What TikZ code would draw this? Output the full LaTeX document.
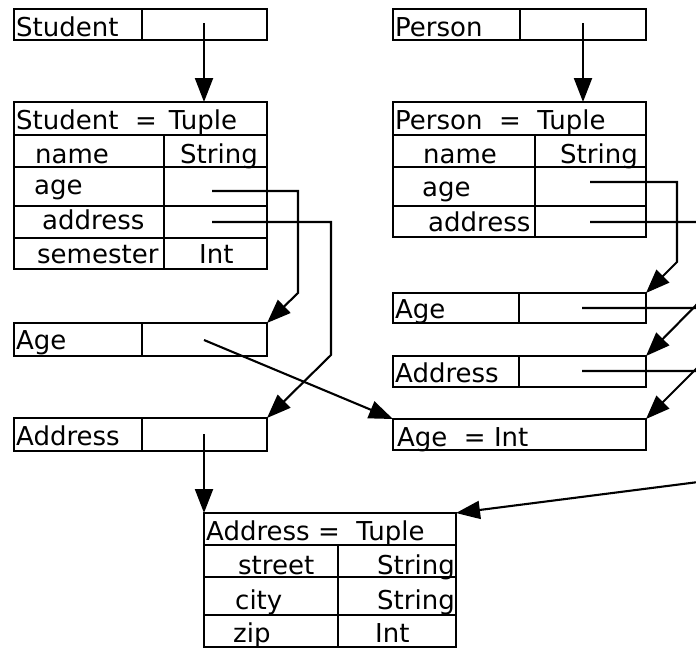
\documentclass[tikz,border=0pt]{standalone}
\usepackage{fontspec}
\setmainfont{DejaVu Sans}
\usetikzlibrary{arrows.meta}

\tikzset{
  cell/.style={draw, line width=2.1pt, inner sep=0pt, outer sep=0pt, anchor=north west},
  lbl/.style={anchor=base west, inner sep=0pt, font=\fontsize{26}{30}\selectfont},
  ptr/.style={line width=2.1pt, line join=miter,
              -{Triangle[length=24pt,width=18pt]}},
}
% one framed cell: name, left x, top y, width, height
\newcommand{\mkcell}[5]{\node[cell, minimum width=#4pt, minimum height=#5pt] (#1) at (#2,#3) {};}

\begin{document}
\begin{tikzpicture}[x=1pt, y=-1pt]
\useasboundingbox (0,0) rectangle (696,648);
\clip (0,0) rectangle (696,648);

% ---------- Student column ----------
\mkcell{stuL}{14}{9}{128}{31}
\mkcell{stuR}{142}{9}{125}{31}
\node[lbl] (tStu) at (16,36) {Student};

\mkcell{stuHead}{14}{102}{253}{33}
\mkcell{stuNameL}{14}{135}{150}{32}
\mkcell{stuNameR}{164}{135}{103}{32}
\mkcell{stuAgeL}{14}{167}{150}{39}
\mkcell{stuAgeR}{164}{167}{103}{39}
\mkcell{stuAddrL}{14}{206}{150}{32}
\mkcell{stuAddrR}{164}{206}{103}{32}
\mkcell{stuSemL}{14}{238}{150}{31}
\mkcell{stuSemR}{164}{238}{103}{31}
\node[lbl] (tStuHead) at (16,129) {Student~~=\hspace{12pt}Tuple};
\node[lbl] (tStuName) at (35,163) {name};
\node[lbl] (tStuNameT) at (180,163) {String};
\node[lbl] (tStuAge) at (34,194) {age};
\node[lbl] (tStuAddr) at (42,229) {address};
\node[lbl] (tStuSem) at (37,263) {semester};
\node[lbl] (tStuSemT) at (199,263) {Int};

\mkcell{lAgeL}{14}{323}{128}{33}
\mkcell{lAgeR}{142}{323}{125}{33}
\node[lbl] (tLAge) at (16,349) {Age};

\mkcell{lAddrL}{14}{418}{128}{33}
\mkcell{lAddrR}{142}{418}{125}{33}
\node[lbl] (tLAddr) at (16,445) {Address};

% ---------- Person column ----------
\mkcell{perL}{393}{9}{127}{31}
\mkcell{perR}{520}{9}{126}{31}
\node[lbl] (tPer) at (395,36) {Person};

\mkcell{perHead}{393}{102}{253}{33}
\mkcell{perNameL}{393}{135}{142}{32}
\mkcell{perNameR}{535}{135}{111}{32}
\mkcell{perAgeL}{393}{167}{142}{39}
\mkcell{perAgeR}{535}{167}{111}{39}
\mkcell{perAddrL}{393}{206}{142}{31}
\mkcell{perAddrR}{535}{206}{111}{31}
\node[lbl] (tPerHead) at (395,129) {Person~~=~~Tuple};
\node[lbl] (tPerName) at (423,163) {name};
\node[lbl] (tPerNameT) at (560,163) {String};
\node[lbl] (tPerAge) at (422,196) {age};
\node[lbl] (tPerAddr) at (428,231) {address};

\mkcell{rAgeL}{393}{293}{126}{30}
\mkcell{rAgeR}{519}{293}{127}{30}
\node[lbl] (tRAge) at (395,318) {Age};

\mkcell{rAddrL}{393}{356}{126}{31}
\mkcell{rAddrR}{519}{356}{127}{31}
\node[lbl] (tRAddr) at (395,382) {Address};

\mkcell{ageInt}{393}{419}{253}{31}
\node[lbl] (tAgeInt) at (397,446) {Age~~=~Int};

% ---------- Address tuple ----------
\mkcell{adHead}{204}{513}{252}{32}
\mkcell{adStrL}{204}{545}{134}{32}
\mkcell{adStrR}{338}{545}{118}{32}
\mkcell{adCityL}{204}{577}{134}{38}
\mkcell{adCityR}{338}{577}{118}{38}
\mkcell{adZipL}{204}{615}{134}{32}
\mkcell{adZipR}{338}{615}{118}{32}
\node[lbl] (tAdHead) at (206,540) {Address~=~~Tuple};
\node[lbl] (tAdStr) at (238,574) {street};
\node[lbl] (tAdStrT) at (377,574) {String};
\node[lbl] (tAdCity) at (235,609) {city};
\node[lbl] (tAdCityT) at (377,609) {String};
\node[lbl] (tAdZip) at (233,642) {zip};
\node[lbl] (tAdZipT) at (375,642) {Int};

% ---------- pointer origins ----------
\coordinate (pStu) at (204,23);
\coordinate (pPer) at (583,23);
\coordinate (pStuAge) at (212,191);
\coordinate (pStuAddr) at (212,222);
\coordinate (pLAge) at (204,340);
\coordinate (pLAddr) at (204,434);
\coordinate (pPerAge) at (590,182);
\coordinate (pPerAddr) at (590,222);
\coordinate (pRAge) at (582,308);
\coordinate (pRAddr) at (582,371);

% ---------- connectors ----------
\draw[ptr] (pStu) -- (pStu |- stuHead.north);
\draw[ptr] (pPer) -- (pPer |- perHead.north);
\draw[ptr] (pStuAge) -- (298,191) -- (298,293) -- (lAgeR.north east);
\draw[ptr] (pStuAddr) -- (331,222) -- (331,355) -- (lAddrR.north east);
\draw[ptr] (pLAge) -- (ageInt.north west);
\draw[ptr] (pLAddr) -- (pLAddr |- adHead.north);
\draw[ptr] (pPerAge) -- (677,182) -- (677,262) -- (rAgeR.north east);
\draw[ptr] (pPerAddr) -- (710,222) -- (710,291) -- (rAddrR.north east);
\draw[ptr] (pRAge) -- (712,308) -- (712,353) -- (ageInt.north east);
\draw[ptr] (pRAddr) -- (714,371) -- (714,480) -- (adHead.north east);
\end{tikzpicture}
\end{document}
